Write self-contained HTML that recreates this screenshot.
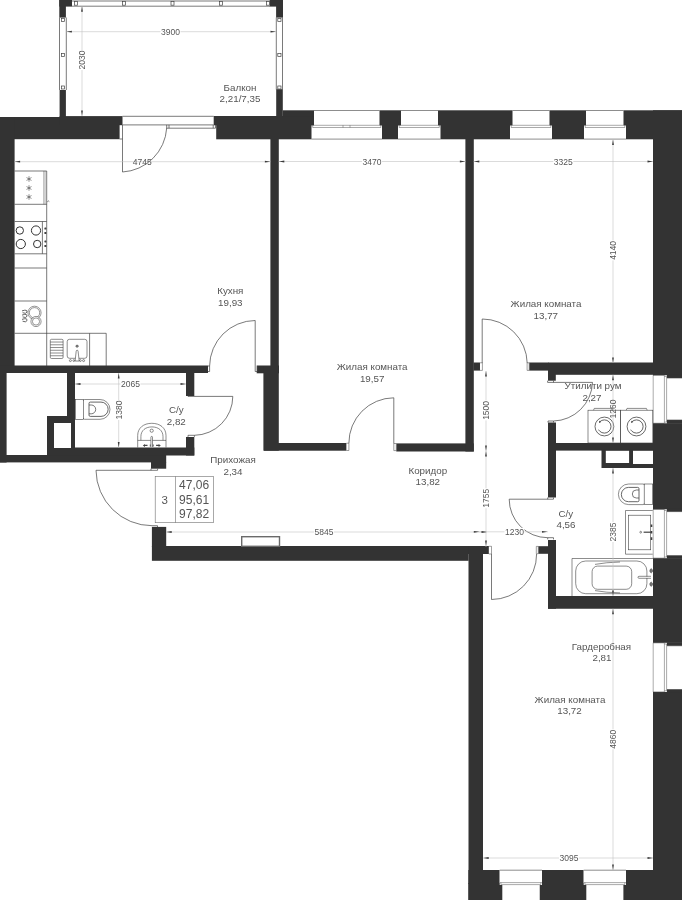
<!DOCTYPE html>
<html><head><meta charset="utf-8"><title>Plan</title>
<style>html,body{margin:0;padding:0;background:#fff;}svg{display:block;will-change:transform;}text{font-family:"Liberation Sans",sans-serif;}</style>
</head><body>
<svg width="682" height="900" viewBox="0 0 682 900">
<rect width="682" height="900" fill="#fff"/>
<g fill="#333333" stroke="none">
<rect x="59.3" y="0" width="12.7" height="6.6"/>
<rect x="59.3" y="0" width="6.6" height="17.6"/>
<rect x="59.6" y="90" width="6.3" height="27.5"/>
<rect x="269.7" y="0" width="13.3" height="6.6"/>
<rect x="276.1" y="0" width="6.9" height="17.6"/>
<rect x="276.2" y="89.2" width="6.6" height="27.8"/>
<rect x="0" y="117" width="60" height="8.2"/>
<rect x="59.6" y="116.1" width="62.9" height="9.1"/>
<rect x="0" y="125" width="119.6" height="14.2"/>
<rect x="213.7" y="116" width="100.3" height="9.3"/>
<rect x="216.2" y="125" width="95.3" height="14.3"/>
<rect x="282.8" y="110.3" width="31.2" height="5.9"/>
<rect x="379.5" y="110.3" width="21.5" height="15.0"/>
<rect x="382" y="125" width="16" height="14.3"/>
<rect x="438" y="110.3" width="74.5" height="15.0"/>
<rect x="440.5" y="125" width="69.5" height="14.3"/>
<rect x="549.5" y="110.3" width="36.5" height="15.0"/>
<rect x="552" y="125" width="32" height="14.3"/>
<rect x="623.5" y="110.3" width="58.5" height="15.0"/>
<rect x="626" y="125" width="56" height="14.3"/>
<rect x="0" y="117" width="14.6" height="256"/>
<rect x="0" y="365.5" width="208" height="7.5"/>
<rect x="256.7" y="365.5" width="22.3" height="7.8"/>
<rect x="270.4" y="139" width="8.4" height="227"/>
<rect x="263.4" y="366" width="15.4" height="84.7"/>
<rect x="264" y="443" width="82.6" height="7.7"/>
<rect x="396.3" y="443.4" width="77.5" height="8.1"/>
<rect x="465.4" y="139" width="8.4" height="312.5"/>
<rect x="473.5" y="362.5" width="6.5" height="8.1"/>
<rect x="529.2" y="362.5" width="19.3" height="8.1"/>
<rect x="548" y="362.5" width="105" height="12.3"/>
<rect x="653" y="110.3" width="29" height="264.9"/>
<rect x="653" y="423.3" width="29" height="86.0"/>
<rect x="653" y="558.2" width="29" height="84.6"/>
<rect x="653" y="692" width="29" height="208"/>
<rect x="548" y="370" width="7.8" height="10.7"/>
<rect x="548" y="422.5" width="8" height="75.0"/>
<rect x="548" y="540" width="8" height="68.75"/>
<rect x="548" y="443" width="105" height="7.6"/>
<rect x="548" y="596" width="105" height="12.75"/>
<rect x="538.3" y="546.2" width="9.7" height="7.6"/>
<rect x="151.9" y="546" width="316.7" height="14.8"/>
<rect x="468" y="546" width="20.9" height="8"/>
<rect x="151.9" y="526.9" width="14.3" height="20.1"/>
<rect x="468.5" y="546" width="14.5" height="354"/>
<rect x="468.4" y="870" width="31.3" height="14"/>
<rect x="468.4" y="883" width="33.9" height="17"/>
<rect x="542" y="870" width="41.7" height="14"/>
<rect x="539.75" y="883" width="46.55" height="17"/>
<rect x="626" y="870" width="56" height="14"/>
<rect x="623.4" y="883" width="58.6" height="17"/>
<rect x="0" y="373" width="6.6" height="89.5"/>
<rect x="0" y="455" width="166.2" height="7.4"/>
<rect x="47" y="416" width="28" height="39.5"/>
<rect x="67" y="373" width="8" height="44"/>
<rect x="74" y="447.5" width="120.3" height="8.0"/>
<rect x="186" y="373" width="8.3" height="23"/>
<rect x="186" y="437" width="8.3" height="18.5"/>
<rect x="151" y="462" width="15.2" height="6.7"/>
<path fill-rule="evenodd" d="M601.5 449.5H653.5V468.1H601.5Z M605.8 450.5H629.1V463H605.8Z M633 450.5H653.5V464H633Z"/>
</g>
<rect x="54" y="423" width="17" height="25" fill="#fff" />
<g fill="none" stroke="#404040" stroke-width="0.7">
<path d="M72 1H270 M72 6.2H270"/>
<rect x="74.5" y="1.6" width="3" height="3.6" fill="#fff"/>
<rect x="122.5" y="1.6" width="3" height="3.6" fill="#fff"/>
<rect x="171.0" y="1.6" width="3" height="3.6" fill="#fff"/>
<rect x="219.5" y="1.6" width="3" height="3.6" fill="#fff"/>
<rect x="266.5" y="1.6" width="3" height="3.6" fill="#fff"/>
<path d="M59.5 17.5V90 M66.3 17.5V90"/>
<rect x="61.4" y="18.5" width="3.2" height="3" fill="#fff"/>
<rect x="61.4" y="53.5" width="3.2" height="3" fill="#fff"/>
<rect x="61.4" y="86.0" width="3.2" height="3" fill="#fff"/>
<path d="M276.3 17.5V89.5 M282.5 17.5V89.5"/>
<rect x="277.8" y="18.5" width="3.2" height="3" fill="#fff"/>
<rect x="277.8" y="53.5" width="3.2" height="3" fill="#fff"/>
<rect x="277.8" y="86.0" width="3.2" height="3" fill="#fff"/>
<path d="M122.5 116.3H213.7 M119.6 139H122.5 M122.5 124.9H213.7 M166.7 128.2H215.5 M166.7 124.9V128.2 M169 124.9V128.2 M213.2 124.9V128.2 M215.5 124.9V128.2"/>
<path d="M122.5 124.9V172 A47 47 0 0 0 166.7 128"/>
<path d="M314 110.5H379.5 M311.5 139.1H382" stroke-width="0.6"/>
<path d="M311.5 125.3H382 M312.7 127.5H380.8 M312.7 125.3V127.5 M380.8 125.3V127.5" stroke-width="0.45"/>
<path d="M343.0 125.3V127.5 M350.0 125.3V127.5" stroke-width="0.45"/>
<path d="M401 110.5H438 M398 139.1H440.5" stroke-width="0.6"/>
<path d="M398 125.3H440.5 M399.2 127.5H439.3 M399.2 125.3V127.5 M439.3 125.3V127.5" stroke-width="0.45"/>
<path d="M512.5 110.5H549.5 M510 139.1H552" stroke-width="0.6"/>
<path d="M510 125.3H552 M511.2 127.5H550.8 M511.2 125.3V127.5 M550.8 125.3V127.5" stroke-width="0.45"/>
<path d="M586 110.5H623.5 M584 139.1H626" stroke-width="0.6"/>
<path d="M584 125.3H626 M585.2 127.5H624.8 M585.2 125.3V127.5 M624.8 125.3V127.5" stroke-width="0.45"/>
<rect x="666.9" y="374.7" width="15.1" height="3.3" fill="#333333" stroke="none"/>
<rect x="666.9" y="420" width="15.1" height="3.8" fill="#333333" stroke="none"/>
<path d="M653 375.2H664.2 M653 423.3H664.2 M667 378H682 M667 420H682" stroke-width="0.6"/>
<path d="M664.4 375.2V423.3 M666.6 376.4V422.1 M664.4 376.4H666.6 M664.4 422.1H666.6 M653.2 375.2V423.3" stroke-width="0.45"/>
<rect x="666.9" y="508.8" width="15.1" height="2.8" fill="#333333" stroke="none"/>
<rect x="666.9" y="555.6" width="15.1" height="3.1" fill="#333333" stroke="none"/>
<path d="M653 509.3H664.2 M653 558.2H664.2 M667 511.6H682 M667 555.6H682" stroke-width="0.6"/>
<path d="M664.4 509.3V558.2 M666.6 510.5V557.0 M664.4 510.5H666.6 M664.4 557.0H666.6 M653.2 509.3V558.2" stroke-width="0.45"/>
<rect x="666.9" y="642.3" width="15.1" height="3.45" fill="#333333" stroke="none"/>
<rect x="666.9" y="689.5" width="15.1" height="3.0" fill="#333333" stroke="none"/>
<path d="M653 642.8H664.2 M653 692H664.2 M667 645.75H682 M667 689.5H682" stroke-width="0.6"/>
<path d="M664.4 642.8V692 M666.6 644.0V690.8 M664.4 644.0H666.6 M664.4 690.8H666.6 M653.2 642.8V692" stroke-width="0.45"/>
<rect x="499.7" y="870" width="42.3" height="15" fill="#fff" stroke="none"/>
<path d="M499.7 870.2H542" stroke-width="0.6"/>
<path d="M499.7 882.6H542 M500.9 884.6H540.8 M500.9 882.6V884.6 M540.8 882.6V884.6" stroke-width="0.45"/>
<rect x="583.7" y="870" width="42.3" height="15" fill="#fff" stroke="none"/>
<path d="M583.7 870.2H626" stroke-width="0.6"/>
<path d="M583.7 882.6H626 M584.9000000000001 884.6H624.8 M584.9000000000001 882.6V884.6 M624.8 882.6V884.6" stroke-width="0.45"/>
<path d="M208 366H209.6V371.5H208 M255.2 320.5V371.5H257.5V366 M255.2 320.5A46 46 0 0 0 209.6 366"/>
<path d="M188 396.4H232.8 M188 395.6V396.4 M232.8 396.4A39 39 0 0 1 194.4 435.3 M188 435.3H194.4V436.9 M188 435.3V436.9"/>
<path d="M96 470.3H157.6V468.7 M151 468.7V470.3 M96 470.3A56 56 0 0 0 152 525.7 M152 525.7H157.5V527"/>
<path d="M346.6 443.2H348.9V450.5H346.6 M393.8 443.5H396.3V450.6H393.8Z" fill="#fff" stroke-width="0.5"/><path d="M393.8 397.8V443.5 M393.8 397.8A45.2 45.2 0 0 0 348.9 443.2"/>
<path d="M480 362.8H482.4V370.4H480 M527.1 362.8H529.2V370.4H527.1Z" fill="#fff" stroke-width="0.5"/><path d="M482.2 319V363 M482.2 319A45 45 0 0 1 527.2 363"/>
<path d="M547.6 382.4H592.5 M592.5 382.4A40 40 0 0 1 553.5 421 M547.6 380.7V382.4 M553.5 380.7V382.4 M548 421H553.5V422.5 M548 421V422.5"/>
<path d="M509.2 499.2H553.5V497.5 M547.7 497.5V499.2 M509.2 499.2A38.5 38.5 0 0 0 547.7 537.7 M547.7 537.7H553.5V539.4 M547.7 537.7V539.4"/>
<path d="M488.9 546.3H491.5V554H488.9 M536.3 546.4H538.3V553.7H536.3Z" fill="#fff" stroke-width="0.5"/><path d="M491.5 554V599.5 M491.5 599.5A45.2 45.2 0 0 0 536.6 554"/>
<path d="M14.6 171H46.7V366 M14.6 204.3H46.7 M14.6 221.5H46.7 M14.6 253.8H46.7 M14.6 268H46.7 M14.6 301H46.7 M14.6 333.3H106.2V366 M89.6 333.3V366"/>
<path d="M43.9 171V204.3" stroke-width="0.5"/><path d="M45.3 171V204.3" stroke-width="0.3"/><path d="M47.3 201.8q1.2-1.6 2-.2"/>
<path d="M42.4 221.5V253.8"/>
</g>
<g stroke="#333" stroke-width="0.55" fill="none">
<path d="M29 176.2V181.8 M26.5 177.55L31.5 180.45 M26.5 180.45L31.5 177.55"/>
<path d="M29 185.2V190.8 M26.5 186.55L31.5 189.45 M26.5 189.45L31.5 186.55"/>
<path d="M29 194.2V199.8 M26.5 195.55L31.5 198.45 M26.5 198.45L31.5 195.55"/>
</g>
<g stroke="#333" stroke-width="1" fill="none">
<circle cx="19.8" cy="230.5" r="3.7"/><circle cx="36" cy="230.5" r="4.6"/><circle cx="20.8" cy="244" r="4.6"/><circle cx="37.2" cy="244" r="3.7"/>
</g>
<g fill="#404040">
<rect x="44.4" y="227.5" width="2" height="2" rx="0.6"/>
<rect x="44.4" y="232" width="2" height="2" rx="0.6"/>
<rect x="44.4" y="240.4" width="2" height="2" rx="0.6"/>
<rect x="44.4" y="245" width="2" height="2" rx="0.6"/>
</g>
<g stroke="#404040" stroke-width="0.6" fill="none">
<g stroke="#2c2c2c" stroke-width="0.5"><circle cx="34.5" cy="312.8" r="6.6"/><circle cx="34.5" cy="312.8" r="5.2"/>
<circle cx="36" cy="321.5" r="5.1" fill="#fff"/><circle cx="36" cy="321.5" r="3.6"/></g>
<path d="M22 310.90000000000003Q27.6 309.0 27 312.1Q26 314.2 22.6 312.7" stroke-width="0.8"/>
<path d="M22 315.1Q27.6 313.2 27 316.3Q26 318.4 22.6 316.9" stroke-width="0.8"/>
<path d="M22 319.40000000000003Q27.6 317.5 27 320.6Q26 322.7 22.6 321.2" stroke-width="0.8"/>
</g>
<g stroke="#404040" stroke-width="0.6" fill="none">
<rect x="50.3" y="339.3" width="12.8" height="19.2" rx="1.2"/>
<path d="M50.3 342.04H63.1"/>
<path d="M50.3 344.79H63.1"/>
<path d="M50.3 347.53H63.1"/>
<path d="M50.3 350.27H63.1"/>
<path d="M50.3 353.01H63.1"/>
<path d="M50.3 355.76H63.1"/>
<rect x="67.2" y="339.3" width="19.8" height="19" rx="2.3"/>
<ellipse cx="77.1" cy="346.2" rx="1.3" ry="1.1" fill="#888" stroke-width="0.5"/>
<path d="M73.3 360.6H80.8" stroke-width="0.5"/>
<circle cx="70.4" cy="360.6" r="1" fill="#fff"/><circle cx="83.6" cy="360.6" r="1" fill="#fff"/><circle cx="73.8" cy="360.6" r="0.9" fill="#fff"/><circle cx="80.4" cy="360.6" r="0.9" fill="#fff"/>
<path d="M75.1 361L76.2 351.2a.95 .95 0 0 1 1.9 0L79.2 361Z" fill="#fff"/>
</g>
<g stroke="#404040" stroke-width="0.6" fill="none">
<rect x="75.5" y="399.5" width="7.9" height="19.8"/>
<path d="M83.4 400.6a1.1 1.1 0 0 1 1.1-1.1H100.1A9.9 9.9 0 0 1 100.1 419.3H84.5a1.1 1.1 0 0 1-1.1-1.1"/>
<path d="M90.3 402.1H101a7.15 7.15 0 0 1 0 14.3H90.3a1.3 1.3 0 0 1-1.3-1.3V403.4a1.3 1.3 0 0 1 1.3-1.3Z" stroke-width="0.8"/>
<path d="M89 405H91.3a4.4 4.4 0 0 1 0 8.8H89" stroke-width="0.7"/>
</g>
<g stroke="#404040" stroke-width="0.6" fill="none">
<path d="M137.7 447.5V435.5C137.7 428 143.5 423.3 151.8 423.3C160.1 423.3 166 428 166 435.5V447.5"/>
<path d="M140.9 440.4V436.5C140.9 430.5 145.5 426.9 151.9 426.9C158.3 426.9 163 430.5 163 436.5V440.4"/>
<path d="M137.7 440.4H166"/>
<circle cx="151.7" cy="430.7" r="1.6"/>
<path d="M150.9 447V437.2a.8 .8 0 0 1 1.6 0V447" fill="#fff"/>
<path d="M142.8 445.4l2.2-1.5v.8h2.5v1.4h-2.5v.8z M160.8 445.4l-2.2-1.5v.8h-2.5v1.4h2.5v.8z" fill="#444" stroke="none"/>
<path d="M149.8 444.6h1v1.8h-1z M152.7 444.6h1v1.8h-1z" fill="#555" stroke="none"/>
</g>
<g stroke="#404040" stroke-width="0.6" fill="none">
<rect x="588" y="410.2" width="32.7" height="32.8"/><rect x="620.7" y="410.2" width="32.1" height="32.8"/>
<path d="M593.5 410.2L594.3 408.4H612.3L613 410.2 M626.2 410.2L627 408.4H646.4L647.2 410.2"/>
<circle cx="604.4" cy="426.5" r="9.4" stroke="#3a3a3a" stroke-width="0.75"/><circle cx="604.4" cy="426.5" r="6.6" stroke="#3a3a3a" stroke-width="0.75" stroke-dasharray="32.8 8.67" transform="rotate(225 604.4 426.5)"/><path d="M599.0 422.9l.3-2.2l1.9 1.4z" fill="#3a3a3a" stroke="none"/>
<circle cx="636.5" cy="426.5" r="9.4" stroke="#3a3a3a" stroke-width="0.75"/><circle cx="636.5" cy="426.5" r="6.6" stroke="#3a3a3a" stroke-width="0.75" stroke-dasharray="32.8 8.67" transform="rotate(225 636.5 426.5)"/><path d="M631.1 422.9l.3-2.2l1.9 1.4z" fill="#3a3a3a" stroke="none"/>
</g>
<g stroke="#404040" stroke-width="0.6" fill="none">
<rect x="644.2" y="484" width="8.5" height="20.6"/>
<path d="M644.2 485.1a1.1 1.1 0 0 0-1.1-1.1H628.7A10.3 10.3 0 0 0 628.7 504.6H643.1a1.1 1.1 0 0 0 1.1-1.1"/>
<path d="M637.7 487.4H628.5A7.15 7.15 0 0 0 628.5 501.7H637.7a1.3 1.3 0 0 0 1.3-1.3V488.7a1.3 1.3 0 0 0-1.3-1.3Z" stroke-width="0.8"/>
<path d="M639 490H636.3A4 4 0 0 0 636.3 498H639" stroke-width="0.7"/>
</g>
<g stroke="#404040" stroke-width="0.6" fill="none">
<path d="M652.7 510.5H625.5V554.2H652.7"/>
<rect x="628.4" y="515.2" width="22.3" height="34.6"/>
<circle cx="640.7" cy="532.2" r="0.9"/>
<path d="M643.6 532.2H652" stroke-width="1.2"/>
<path d="M651.5 524.5v2.6 M651.5 530.9v2.6 M651.5 537.3v2.6" stroke-width="1.6"/>
</g>
<g stroke="#404040" stroke-width="0.6" fill="none">
<path d="M653 558.5H572V596"/>
<rect x="575.7" y="561" width="71.2" height="32.7" rx="10"/>
<rect x="592.1" y="566.1" width="39.6" height="23.2" rx="5.5"/>
<path d="M595 564.4Q606 562.3 620 562 M595 590.6Q606 592.6 620 592.9"/>
<path d="M638.5 577.3H651" stroke-width="1.4" stroke="#fff"/><path d="M651 576.3H639a1 1 0 0 0 0 2H651"/>
<path d="M651.2 568.6l1.3 1.2v2l-1.3 1.2l-1.3-1.2v-2z M651.2 582l1.3 1.2v2l-1.3 1.2l-1.3-1.2v-2z" fill="#777" stroke="#444" stroke-width="0.5"/>
</g>
<g stroke="#404040" stroke-width="0.6" fill="none">
<rect x="155.2" y="476.4" width="58.2" height="46.3" stroke="#707070"/><path d="M175.5 476.4V522.7" stroke="#707070"/>
</g>
<rect x="241.7" y="536.7" width="37.8" height="9.6" fill="#fff" stroke="#6a6a6a" stroke-width="1.4"/>
<g stroke="#c2c2c2" stroke-width="0.6" fill="none">
<path d="M66.4 31.7H276"/>
<path d="M14.6 161.7H270.4"/>
<path d="M278.8 161.5H465.4"/>
<path d="M473.8 161.5H653"/>
<path d="M75 384H186"/>
<path d="M166.2 532H486"/>
<path d="M475 531.8H548"/>
<path d="M483.2 858H653"/>
<path d="M82 6.3V116"/>
<path d="M118.7 373V447.5"/>
<path d="M486 371V547"/>
<path d="M613 139.5V363"/>
<path d="M613 374.8V443"/>
<path d="M613 468V596"/>
<path d="M613 608.75V870"/>
</g>
<g fill="#3a3a3a" stroke="none">
<path d="M66.4 31.7L71.9 30.8V32.6Z"/>
<path d="M276 31.7L270.5 30.8V32.6Z"/>
<path d="M14.6 161.7L20.1 160.79999999999998V162.6Z"/>
<path d="M270.4 161.7L264.9 160.79999999999998V162.6Z"/>
<path d="M278.8 161.5L284.3 160.6V162.4Z"/>
<path d="M465.4 161.5L459.9 160.6V162.4Z"/>
<path d="M473.8 161.5L479.3 160.6V162.4Z"/>
<path d="M653 161.5L647.5 160.6V162.4Z"/>
<path d="M75 384L80.5 383.1V384.9Z"/>
<path d="M186 384L180.5 383.1V384.9Z"/>
<path d="M166.2 532L171.7 531.1V532.9Z"/>
<path d="M487 532L481.5 531.1V532.9Z"/>
<path d="M479.3 531.8L473.8 530.9V532.6999999999999Z"/>
<path d="M547.5 531.8L542.0 530.9V532.6999999999999Z"/>
<path d="M483.2 858L488.7 857.1V858.9Z"/>
<path d="M653 858L647.5 857.1V858.9Z"/>
<path d="M82 6.3L81.1 11.8H82.9Z"/>
<path d="M82 116L81.1 110.5H82.9Z"/>
<path d="M118.7 373L117.8 378.5H119.60000000000001Z"/>
<path d="M118.7 447.5L117.8 442.0H119.60000000000001Z"/>
<path d="M486 371L485.1 376.5H486.9Z"/>
<path d="M486 451L485.1 445.5H486.9Z"/>
<path d="M486 451L485.1 456.5H486.9Z"/>
<path d="M486 546L485.1 540.5H486.9Z"/>
<path d="M613 139.5L612.1 145.0H613.9Z"/>
<path d="M613 363L612.1 357.5H613.9Z"/>
<path d="M613 374.8L612.1 380.3H613.9Z"/>
<path d="M613 443L612.1 437.5H613.9Z"/>
<path d="M613 468L612.1 473.5H613.9Z"/>
<path d="M613 596L612.1 590.5H613.9Z"/>
<path d="M613 608.75L612.1 614.25H613.9Z"/>
<path d="M613 870L612.1 864.5H613.9Z"/>
</g>
<rect x="160.5" y="27.7" width="20" height="8" fill="#fff"/>
<text x="170.5" y="34.7" text-anchor="middle" font-size="8.5" fill="#555555">3900</text>
<rect x="78" y="50.0" width="8" height="20" fill="#fff"/>
<text transform="translate(85 60) rotate(-90)" text-anchor="middle" font-size="8.5" fill="#555555">2030</text>
<text x="142.3" y="164.7" text-anchor="middle" font-size="8.5" fill="#555555">4745</text>
<rect x="362.0" y="157.5" width="20" height="8" fill="#fff"/>
<text x="372" y="164.5" text-anchor="middle" font-size="8.5" fill="#555555">3470</text>
<rect x="553.3" y="157.5" width="20" height="8" fill="#fff"/>
<text x="563.3" y="164.5" text-anchor="middle" font-size="8.5" fill="#555555">3325</text>
<rect x="609" y="240.4" width="8" height="20" fill="#fff"/>
<text transform="translate(616 250.4) rotate(-90)" text-anchor="middle" font-size="8.5" fill="#555555">4140</text>
<rect x="120.5" y="380" width="20" height="8" fill="#fff"/>
<text x="130.5" y="387" text-anchor="middle" font-size="8.5" fill="#555555">2065</text>
<rect x="114.7" y="400.0" width="8" height="20" fill="#fff"/>
<text transform="translate(121.7 410) rotate(-90)" text-anchor="middle" font-size="8.5" fill="#555555">1380</text>
<rect x="482" y="400.4" width="8" height="20" fill="#fff"/>
<text transform="translate(489 410.4) rotate(-90)" text-anchor="middle" font-size="8.5" fill="#555555">1500</text>
<rect x="482" y="488.3" width="8" height="20" fill="#fff"/>
<text transform="translate(489 498.3) rotate(-90)" text-anchor="middle" font-size="8.5" fill="#555555">1755</text>
<rect x="314.0" y="528" width="20" height="8" fill="#fff"/>
<text x="324" y="535" text-anchor="middle" font-size="8.5" fill="#555555">5845</text>
<rect x="504.5" y="527.8" width="20" height="8" fill="#fff"/>
<text x="514.5" y="534.8" text-anchor="middle" font-size="8.5" fill="#555555">1230</text>
<text transform="translate(615.6 409) rotate(-90)" text-anchor="middle" font-size="8.5" fill="#555555">1260</text>
<rect x="609" y="522.0" width="8" height="20" fill="#fff"/>
<text transform="translate(616 532) rotate(-90)" text-anchor="middle" font-size="8.5" fill="#555555">2385</text>
<rect x="609" y="729.3" width="8" height="20" fill="#fff"/>
<text transform="translate(616 739.3) rotate(-90)" text-anchor="middle" font-size="8.5" fill="#555555">4860</text>
<rect x="559.0" y="854" width="20" height="8" fill="#fff"/>
<text x="569" y="861" text-anchor="middle" font-size="8.5" fill="#555555">3095</text>
<text x="240" y="90.5" text-anchor="middle" font-size="9.8" fill="#555555">Балкон</text>
<text x="240" y="102" text-anchor="middle" font-size="9.8" fill="#555555">2,21/7,35</text>
<text x="230.3" y="294.2" text-anchor="middle" font-size="9.8" fill="#555555">Кухня</text>
<text x="230.3" y="305.6" text-anchor="middle" font-size="9.8" fill="#555555">19,93</text>
<text x="372.2" y="370" text-anchor="middle" font-size="9.8" fill="#555555">Жилая комната</text>
<text x="372.2" y="381.5" text-anchor="middle" font-size="9.8" fill="#555555">19,57</text>
<text x="546" y="307" text-anchor="middle" font-size="9.8" fill="#555555">Жилая комната</text>
<text x="545.8" y="319.4" text-anchor="middle" font-size="9.8" fill="#555555">13,77</text>
<text x="176.3" y="413" text-anchor="middle" font-size="9.8" fill="#555555">С/у</text>
<text x="176.3" y="424.5" text-anchor="middle" font-size="9.8" fill="#555555">2,82</text>
<text x="233" y="463" text-anchor="middle" font-size="9.8" fill="#555555">Прихожая</text>
<text x="233" y="475" text-anchor="middle" font-size="9.8" fill="#555555">2,34</text>
<text x="427.8" y="473.7" text-anchor="middle" font-size="9.8" fill="#555555">Коридор</text>
<text x="427.8" y="485.3" text-anchor="middle" font-size="9.8" fill="#555555">13,82</text>
<text x="593" y="389" text-anchor="middle" font-size="9.8" fill="#555555">Утилити рум</text>
<text x="592" y="401" text-anchor="middle" font-size="9.8" fill="#555555">2,27</text>
<text x="565.8" y="517" text-anchor="middle" font-size="9.8" fill="#555555">С/у</text>
<text x="566" y="528.4" text-anchor="middle" font-size="9.8" fill="#555555">4,56</text>
<text x="601.5" y="649.7" text-anchor="middle" font-size="9.8" fill="#555555">Гардеробная</text>
<text x="602" y="661.2" text-anchor="middle" font-size="9.8" fill="#555555">2,81</text>
<text x="570" y="703.2" text-anchor="middle" font-size="9.8" fill="#555555">Жилая комната</text>
<text x="569.5" y="714.4" text-anchor="middle" font-size="9.8" fill="#555555">13,72</text>
<text x="164.6" y="503.8" text-anchor="middle" font-size="11.5" fill="#555555">3</text>
<text x="194.1" y="489.1" text-anchor="middle" font-size="12" fill="#555555">47,06</text>
<text x="194.1" y="503.8" text-anchor="middle" font-size="12" fill="#555555">95,61</text>
<text x="194.1" y="517.8" text-anchor="middle" font-size="12" fill="#555555">97,82</text>
</svg></body></html>
